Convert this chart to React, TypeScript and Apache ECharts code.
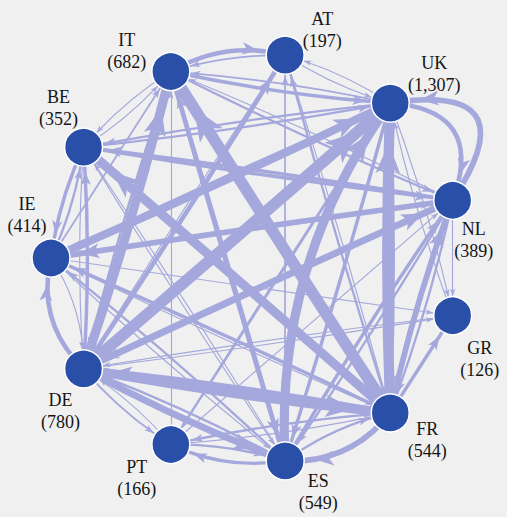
import React, { useEffect, useRef } from 'react';
import * as echarts from 'echarts';

// Nodes in the order the circular layout places them (clockwise from the right)
const countries = ['GR', 'FR', 'ES', 'PT', 'DE', 'IE', 'BE', 'IT', 'AT', 'UK', 'NL'];
const countryValues = [126, 544, 549, 166, 780, 414, 352, 682, 197, 1307, 389];

// Directed flows: source -> target with weight
const flowSources = [
  'IT', 'IT', 'IT', 'IT', 'IT', 'IT', 'IT',
  'AT', 'AT', 'AT', 'AT',
  'UK', 'UK', 'UK', 'UK', 'UK', 'UK', 'UK', 'UK', 'UK', 'UK',
  'NL', 'NL', 'NL', 'NL', 'NL', 'NL', 'NL', 'NL',
  'GR', 'GR',
  'FR', 'FR', 'FR', 'FR', 'FR', 'FR', 'FR', 'FR', 'FR', 'FR',
  'ES', 'ES', 'ES', 'ES', 'ES', 'ES', 'ES', 'ES', 'ES',
  'PT', 'PT', 'PT', 'PT', 'PT', 'PT',
  'DE', 'DE', 'DE', 'DE', 'DE', 'DE', 'DE', 'DE', 'DE', 'DE',
  'IE', 'IE', 'IE', 'IE', 'IE', 'IE', 'IE', 'IE',
  'BE', 'BE', 'BE', 'BE', 'BE', 'BE', 'BE',
];
const flowTargets = [
  'AT', 'UK', 'ES', 'DE', 'NL', 'FR', 'BE',
  'IT', 'UK', 'DE', 'FR',
  'NL', 'IT', 'BE', 'IE', 'DE', 'ES', 'FR', 'PT', 'AT', 'GR',
  'UK', 'IE', 'BE', 'DE', 'FR', 'ES', 'IT', 'GR',
  'UK', 'DE',
  'IT', 'UK', 'BE', 'DE', 'ES', 'NL', 'GR', 'IE', 'PT', 'AT',
  'UK', 'PT', 'IT', 'NL', 'FR', 'DE', 'IE', 'AT', 'BE',
  'ES', 'UK', 'FR', 'DE', 'IT', 'NL',
  'UK', 'IT', 'FR', 'ES', 'NL', 'AT', 'IE', 'BE', 'PT', 'GR',
  'UK', 'BE', 'NL', 'IT', 'DE', 'FR', 'ES', 'GR',
  'IE', 'NL', 'UK', 'FR', 'IT', 'DE', 'ES',
];
const flowWeights = [
  4, 3, 4, 2, 2, 1.5, 1,
  1.5, 1, 1, 1,
  4, 1.5, 2, 2, 3, 3, 3, 1, 1, 1,
  5, 5, 3, 3, 2, 2, 1, 1,
  1, 1,
  10, 9, 8, 5, 5, 5, 3, 3, 2, 2,
  8, 3, 3, 3, 2, 2, 2, 1.5, 1,
  2, 2, 1, 1, 1, 1,
  10, 8, 8, 6, 6, 4, 4, 3, 1.5, 1,
  7, 2, 2, 1.5, 1, 1, 1, 1,
  3, 3, 2, 2, 1, 1, 1,
];

// ---- styling / placement (not data) ----
// circular layout: positive curveness bends toward the circle centre
const curveOf: Record<string, number> = {
  'IT>AT': -0.04,
  'UK>NL': -0.13,
  'NL>UK': -0.22,
  'DE>IE': -0.055,
  'IE>DE': 0.03,
  'FR>ES': -0.05,
  'ES>FR': 0.02,
  'ES>PT': -0.03,
  'PT>ES': 0.015,
  'ES>UK': 0.26,
};
const labelOffsets: Record<string, [number, number]> = {
  GR: [27, 43], FR: [37, 27], ES: [33, 31], PT: [-34, 34], DE: [-23, 42],
  IE: [-24, -43], BE: [-25, -39], IT: [-44, -21], AT: [37, -25], UK: [44, -29], NL: [21, 40],
};

const EDGE_COLOR = '#a5a8dc';
const NODE_COLOR = '#2a4fa8';
const WIDTH_SCALE = 1.15;

function arrowFor(w: number) {
  const W = 3 + 2.1 * w;
  const L = 5 + 2.4 * w;
  const T = 2.3 * (w - 1);
  const H = T + L;
  const f = (n: number) => n.toFixed(2);
  const p = `path://M0,${f(T)}L${f(W / 2)},${f(H)}L0,${f(T + 0.75 * L)}L${f(-W / 2)},${f(H)}ZM0,${f(-H)}`;
  return { symbol: ['none', p], symbolSize: [0, [W, 2 * H]] };
}

function buildOption() {
  const order = new Map(countries.map((c, i) => [c, i]));
  const pairSet = new Set(flowSources.map((s, i) => `${s}>${flowTargets[i]}`));
  const nodes = countries.map((name, i) => ({
    name,
    value: countryValues[i],
    label: { offset: labelOffsets[name] },
  }));
  const links = flowSources.map((s, i) => {
    const t = flowTargets[i];
    const w = flowWeights[i] * WIDTH_SCALE;
    const key = `${s}>${t}`;
    let c = curveOf[key];
    if (c === undefined) {
      c = pairSet.has(`${t}>${s}`) ? ((order.get(s)! < order.get(t)!) ? 0.015 : -0.015) : 0;
    }
    const a = arrowFor(w);
    return {
      source: s,
      target: t,
      value: flowWeights[i],
      symbol: a.symbol,
      symbolSize: a.symbolSize,
      lineStyle: { width: w, curveness: c },
    };
  });
  return {
    animation: false,
    backgroundColor: '#f0f0f0',
    series: [
      {
        type: 'graph',
        layout: 'circular',
        circular: { rotateLabel: false },
        left: 51,
        top: 53,
        width: 410,
        height: 410,
        symbol: 'circle',
        symbolSize: 38,
        edgeSymbol: ['none', 'arrow'],
        edgeSymbolSize: [0, 8],
        itemStyle: { color: NODE_COLOR, borderColor: '#ffffff', borderWidth: 1.5 },
        lineStyle: { color: EDGE_COLOR, opacity: 1 },
        label: {
          show: true,
          position: 'inside',
          color: '#151515',
          fontFamily: "'Liberation Serif', 'Times New Roman', serif",
          fontSize: 18,
          lineHeight: 22,
          align: 'center',
          verticalAlign: 'middle',
          textBorderWidth: 0,
          formatter: (p: any) => `${p.name}\n(${Number(p.value).toLocaleString('en-US')})`,
        },
        emphasis: { disabled: true },
        data: nodes,
        links,
      },
    ],
  };
}

export default function App() {
  const ref = useRef<HTMLDivElement>(null);
  useEffect(() => {
    if (!ref.current) return;
    const chart = echarts.init(ref.current, undefined, { renderer: 'svg' });
    chart.setOption(buildOption() as any);
    return () => chart.dispose();
  }, []);
  return (
    <div
      ref={ref}
      style={{ position: 'fixed', left: 0, top: 0, width: 507, height: 517 }}
    />
  );
}
